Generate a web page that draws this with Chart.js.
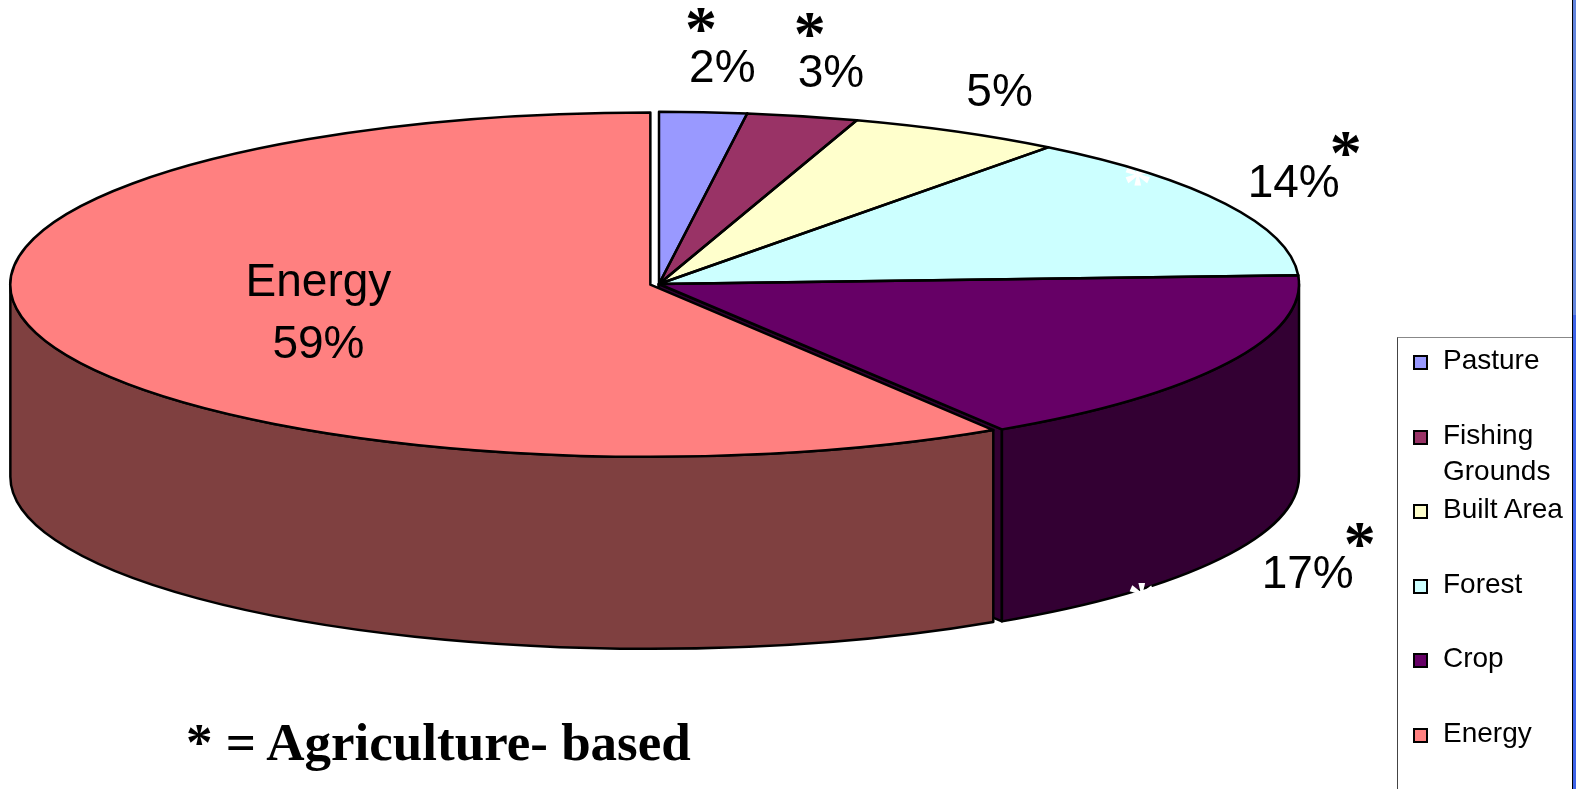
<!DOCTYPE html>
<html>
<head>
<meta charset="utf-8">
<title>Footprint by land type</title>
<script src="https://cdn.jsdelivr.net/npm/chart.js@4.4.1/dist/chart.umd.min.js"></script>
<style>
	html, body { margin: 0; padding: 0; background: #fff; }
	#wrap { position: relative; width: 1576px; height: 789px; overflow: hidden; }
	#pie { position: absolute; left: 0; top: 0; }
	#legend {
		position: absolute; left: 1397px; top: 337px; width: 176px; height: 470px;
		border-left: 1.5px solid #444; border-top: 1px solid #888; box-sizing: border-box;
		font-family: 'Liberation Sans', Arial, sans-serif; font-size: 28px; color: #000;
		padding-top: 4px;
	}
	#legend .item { position: relative; height: 74.5px; line-height: 36px; white-space: nowrap; }
	#legend .box {
		position: absolute; left: 15px; top: 13px; width: 11px; height: 11px;
		border: 2px solid #000;
	}
	#legend .txt { position: absolute; left: 45px; top: 0; }
	#caption {
		position: absolute; left: 186px; top: 716px; line-height: 53px;
		font-family: 'Liberation Serif', 'Times New Roman', serif; font-weight: bold; font-size: 53px;
		white-space: nowrap;
	}
	#edge1 { position: absolute; left: 1572px; top: 0; width: 1px; height: 789px; background: #000; }
	#edge2 { position: absolute; left: 1573px; top: 0; width: 3px; height: 315px; background: #6385dc; }
	#edge3 { position: absolute; left: 1573px; top: 315px; width: 3px; height: 474px; background: #3d63e8; }
</style>
</head>
<body>
<div id="wrap">
	<canvas id="pie" width="1576" height="789"></canvas>
	<div id="legend"></div>
	<div id="caption">* = Agriculture- based</div>
	<div id="edge1"></div><div id="edge2"></div><div id="edge3"></div>
</div>
<script>
// land types, clockwise from 12 o'clock
const categories = ['Pasture', ['Fishing', 'Grounds'], 'Built Area', 'Forest', 'Crop', 'Energy'];
// share of the footprint, %
const shares = [2.2, 2.8, 5.4, 13.8, 16.8, 59.0];
// which slices carry the "*" (agriculture based)
const agriBased = [true, true, false, true, true, false];
const explodedSlice = 'Energy';

const topColors = ['#9999FF', '#993366', '#FFFFCC', '#CCFFFF', '#660066', '#FF8080'];

// 3d look
const TILT = 0.269;     // vertical squash of the top face
const DEPTH = 192;      // wall height, px
const RADIUS = 640;
const EXPLODE = 9;
const LINE = 2.5;
const SANS = "'Liberation Sans', Arial, sans-serif";
const SERIF = "'Liberation Serif', 'Times New Roman', serif";

const labelText = (l) => Array.isArray(l) ? l.join(' ') : l;

function shade(hex) {
	const n = parseInt(hex.slice(1), 16);
	const r = (n >> 16) >> 1, g = ((n >> 8) & 255) >> 1, b = (n & 255) >> 1;
	return `rgb(${r},${g},${b})`;
}

// top face of one slice, mapped to the screen (squashed circle -> ellipse)
function face(chart, arc) {
	const a = chart.chartArea;
	const cy = (a.top + a.bottom) / 2;
	return {
		x: arc.x,
		y: cy + (arc.y - cy) * TILT,
		rx: arc.outerRadius,
		ry: arc.outerRadius * TILT,
	};
}

const explode = {
	id: 'explode',
	afterDatasetUpdate(chart, args) {
		const idx = chart.data.labels.findIndex((l) => labelText(l) === explodedSlice);
		const arc = args.meta.data[idx];
		if (!arc) return;
		const mid = (arc.startAngle + arc.endAngle) / 2;
		arc.x += Math.cos(mid) * EXPLODE;
		arc.y += Math.sin(mid) * EXPLODE;
	},
};

const pie3d = {
	id: 'pie3d',
	beforeDatasetsDraw(chart) {
		const ctx = chart.ctx;
		const arcs = chart.getDatasetMeta(0).data;
		const colors = chart.data.datasets[0].backgroundColor;
		ctx.save();
		ctx.lineWidth = LINE;
		ctx.strokeStyle = '#000';
		ctx.lineJoin = 'round';

		// cut faces that look towards the viewer
		arcs.forEach((arc, i) => {
			const g = face(chart, arc);
			[[arc.startAngle, -1], [arc.endAngle, 1]].forEach(([ang, side]) => {
				if (side * Math.cos(ang) <= 0.01) return;
				const ex = g.x + g.rx * Math.cos(ang), ey = g.y + g.ry * Math.sin(ang);
				ctx.beginPath();
				ctx.moveTo(g.x, g.y);
				ctx.lineTo(ex, ey);
				ctx.lineTo(ex, ey + DEPTH);
				ctx.lineTo(g.x, g.y + DEPTH);
				ctx.closePath();
				ctx.fillStyle = shade(colors[i]);
				ctx.fill();
				ctx.stroke();
			});
		});

		// outer walls on the front half
		arcs.forEach((arc, i) => {
			const a1 = Math.max(arc.startAngle, 0), a2 = Math.min(arc.endAngle, Math.PI);
			if (a2 <= a1) return;
			const g = face(chart, arc);
			ctx.beginPath();
			ctx.ellipse(g.x, g.y, g.rx, g.ry, 0, a1, a2);
			ctx.ellipse(g.x, g.y + DEPTH, g.rx, g.ry, 0, a2, a1, true);
			ctx.closePath();
			ctx.fillStyle = shade(colors[i]);
			ctx.fill();
			ctx.stroke();
		});
		ctx.restore();

		// let chart.js paint the top faces squashed
		const a = chart.chartArea;
		const cy = (a.top + a.bottom) / 2;
		ctx.save();
		ctx.translate(0, cy);
		ctx.scale(1, TILT);
		ctx.translate(0, -cy);
	},
	afterDatasetsDraw(chart) {
		const ctx = chart.ctx;
		ctx.restore();
		const arcs = chart.getDatasetMeta(0).data;
		const values = chart.data.datasets[0].data;
		const total = values.reduce((s, v) => s + v, 0);

		// stray white stars left over on the forest / crop rims
		ctx.save();
		ctx.fillStyle = '#fff';
		ctx.font = 'bold 58px ' + SERIF;
		ctx.textAlign = 'center';
		arcs.forEach((arc, i) => {
			const m = (arc.startAngle + arc.endAngle) / 2;
			if (!agriBased[i] || Math.abs(Math.cos(m)) < 0.6) return;
			const g = face(chart, arc);
			const t = m * 1.5;
			const x = g.x + g.rx * Math.cos(t);
			const y = g.y + g.ry * Math.sin(t) + (Math.sin(t) > 0 ? DEPTH : 0) + 4;
			ctx.fillText('*', x, y + 28);
		});
		ctx.restore();

		// outlines of the top faces
		ctx.save();
		ctx.lineWidth = LINE;
		ctx.strokeStyle = '#000';
		ctx.lineJoin = 'round';
		arcs.forEach((arc) => {
			const g = face(chart, arc);
			ctx.beginPath();
			ctx.moveTo(g.x, g.y);
			ctx.ellipse(g.x, g.y, g.rx, g.ry, 0, arc.startAngle, arc.endAngle);
			ctx.closePath();
			ctx.stroke();
		});
		ctx.restore();

		// percentage labels
		ctx.save();
		ctx.fillStyle = '#000';
		ctx.textAlign = 'center';
		ctx.textBaseline = 'middle';
		arcs.forEach((arc, i) => {
			const g = face(chart, arc);
			const m = (arc.startAngle + arc.endAngle) / 2;
			const c = Math.cos(m), s = Math.sin(m);
			const pct = Math.round(values[i] / total * 100) + '%';
			ctx.font = '46px ' + SANS;
			if (labelText(chart.data.labels[i]) === explodedSlice) {
				const x = g.x + 0.54 * g.rx * c, y = g.y + 0.54 * g.ry * s + 4;
				ctx.fillText(labelText(chart.data.labels[i]), x, y - 31);
				ctx.fillText(pct, x, y + 31);
				return;
			}
			const x = g.x + (g.rx + 60) * c + 15 + (s > 0 ? 12 : 0);
			const y = g.y + (g.ry + 43) * s + (s > 0 ? DEPTH : 0);
			ctx.fillText(pct, x, y);
			if (!agriBased[i]) return;
			const w = ctx.measureText(pct).width;
			ctx.font = 'bold 64px ' + SERIF;
			if (Math.abs(c) < 0.6) ctx.fillText('*', x - w / 2 + 12, y - 45 + 9);
			else ctx.fillText('*', x + w / 2 + 6, y - 35 + 9);
		});
		ctx.restore();
	},
};

const htmlLegend = {
	id: 'htmlLegend',
	afterUpdate(chart) {
		const box = document.getElementById('legend');
		const colors = chart.data.datasets[0].backgroundColor;
		box.innerHTML = '';
		chart.data.labels.forEach((l, i) => {
			const item = document.createElement('div');
			item.className = 'item';
			const sw = document.createElement('span');
			sw.className = 'box';
			sw.style.background = colors[i];
			const txt = document.createElement('span');
			txt.className = 'txt';
			txt.innerHTML = (Array.isArray(l) ? l : [l]).join('<br>');
			item.appendChild(sw);
			item.appendChild(txt);
			box.appendChild(item);
		});
	},
};

new Chart(document.getElementById('pie'), {
	type: 'pie',
	data: {
		labels: categories,
		datasets: [{
			data: shares,
			backgroundColor: topColors,
			borderWidth: 0,
			radius: RADIUS,
		}],
	},
	options: {
		responsive: false,
		animation: false,
		events: [],
		layout: { padding: { left: 0, right: 258, top: 0, bottom: 221 } },
		plugins: { legend: { display: false }, tooltip: { enabled: false } },
	},
	plugins: [explode, pie3d, htmlLegend],
});
</script>
</body>
</html>
